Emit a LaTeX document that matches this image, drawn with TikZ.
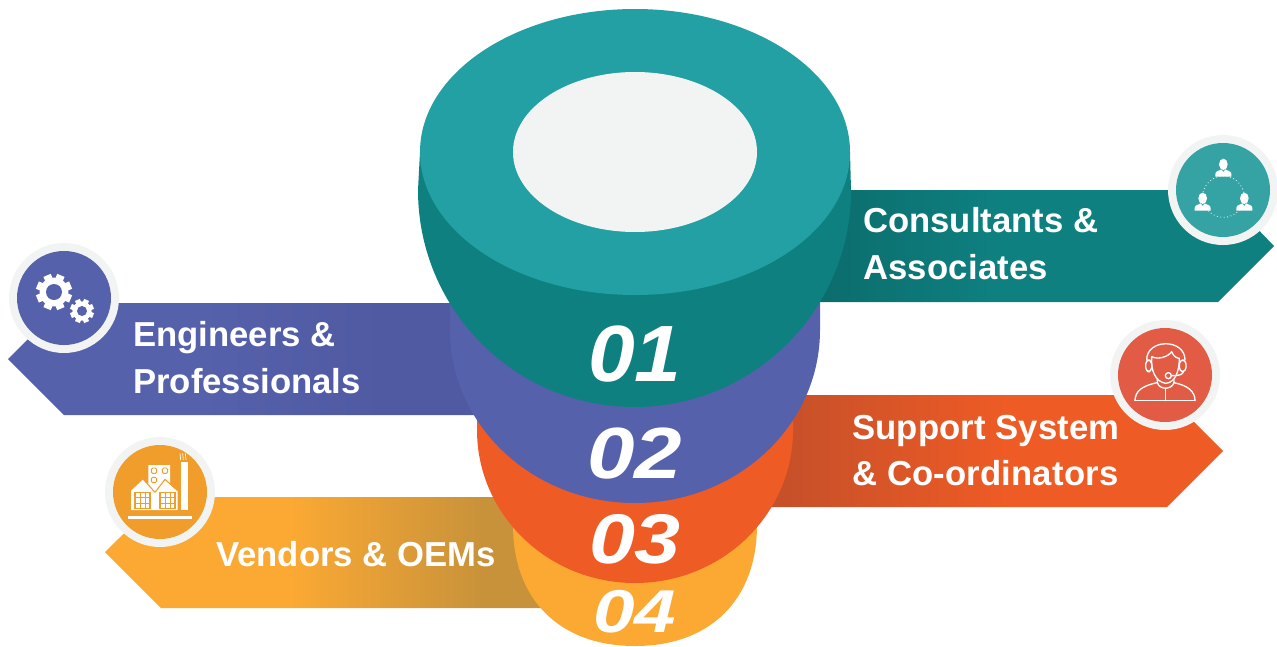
\documentclass[tikz,border=0pt]{standalone}
\usepackage{fontspec}
\setmainfont{Liberation Sans}
\newfontfamily\numfont{Liberation Sans}
\definecolor{tealtop}{HTML}{22A0A3}
\definecolor{tealbody}{HTML}{0F8080}
\definecolor{tealdark}{HTML}{0B6A6A}
\definecolor{tealicon}{HTML}{35A3A3}
\definecolor{purplemain}{HTML}{5661AB}
\definecolor{purpledark}{HTML}{4F5AA3}
\definecolor{orangemain}{HTML}{EF5B25}
\definecolor{orangedark}{HTML}{C24F2A}
\definecolor{orangeicon}{HTML}{E25C45}
\definecolor{yellowmain}{HTML}{FBA933}
\definecolor{yellowdark}{HTML}{C8923A}
\definecolor{yellowicon}{HTML}{F19D2B}
\definecolor{holecol}{HTML}{F2F4F3}
\pgfdeclarehorizontalshading{ribbonteal}{100bp}{color(0bp)=(tealdark); color(25bp)=(tealdark); color(46bp)=(tealbody); color(100bp)=(tealbody)}
\pgfdeclarehorizontalshading{ribbonorange}{100bp}{color(0bp)=(orangedark); color(25bp)=(orangedark); color(52bp)=(orangemain); color(100bp)=(orangemain)}
\pgfdeclarehorizontalshading{ribbonyellow}{100bp}{color(0bp)=(yellowmain); color(46bp)=(yellowmain); color(68bp)=(yellowdark); color(100bp)=(yellowdark)}
\pgfdeclarehorizontalshading{ribbonpurple}{100bp}{color(0bp)=(purplemain); color(45bp)=(purplemain); color(65bp)=(purpledark); color(100bp)=(purpledark)}
\tikzset{
  labeltext/.style={text=white,font=\fontsize{26}{26}\selectfont\bfseries,anchor=base west,inner sep=0pt},
  numtext/.style={text=white,font=\numfont\bfseries\itshape\fontsize{#1}{#1}\selectfont,anchor=base,inner sep=0pt},
  ringdisc/.style={fill=holecol,draw=none},
  iconline/.style={draw=white,line width=1pt,line cap=round,line join=round,fill=none}
}
\newcommand{\gearshape}[4]{% x,y,outer radius,hole radius
  \fill[white] (#1,#2) circle[radius=#3*0.8];
  \foreach \a in {0,45,...,315}{
    \fill[white,rotate around={\a+22.5:(#1,#2)}] ({#1-#3*0.22},#2) rectangle ({#1+#3*0.22},{#2-#3});
  }
  \fill[purplemain] (#1,#2) circle[radius=#4];
}
\newcommand{\personicon}[2]{%
  \begin{scope}[shift={(#1,#2)}]
    \fill[white] (0,-5) ellipse [x radius=13,y radius=17];
    \fill[white] (-24,32) -- (-24,24) .. controls (-24,14) and (-10,14) .. (-6,10) -- (0,18) -- (6,10) .. controls (10,14) and (24,14) .. (24,24) -- (24,32) -- cycle;
  \end{scope}%
}
\begin{document}
\begin{tikzpicture}[x=0.75pt,y=-0.75pt]
\useasboundingbox (0,0) rectangle (1277,646);
% yellow tier
\path[shading=ribbonyellow] (545,608) -- (161,608) -- (105,552) -- (161,497) -- (545,497) -- cycle;
\fill[yellowmain] (513,500) -- (513,525) .. controls (513,600) and (560,646) .. (635,646) .. controls (710,646) and (757,600) .. (757,525) -- (757,500) -- cycle;
% orange tier
\path[shading=ribbonorange] (760,395) -- (1167,395) -- (1223,451) -- (1167,507) -- (760,507) -- cycle;
\fill[orangemain] (477,415) -- (793,415) -- (793,430) arc[start angle=0,end angle=180,x radius=158,y radius=153] -- cycle;
% purple tier
\path[shading=ribbonpurple] (64,303) -- (480,303) -- (480,415) -- (64,415) -- (8,359) -- cycle;
\fill[purplemain] (450,290) -- (820,290) -- (820,330) arc[start angle=0,end angle=180,x radius=185,y radius=173] -- cycle;
% teal tier
\path[shading=ribbonteal] (800,190) -- (1220,190) -- (1274,246) -- (1218,302) -- (800,302) -- cycle;
\fill[tealbody] (420,152) -- (850,152) -- (851,190) arc[start angle=0,end angle=180,x radius=216.5,y radius=217] -- cycle;
\fill[tealtop] (635,152) ellipse[x radius=215,y radius=143];
\fill[holecol] (635,152) ellipse[x radius=122,y radius=80];
% icon discs
\fill[ringdisc] (1223,190) circle[radius=55];
\fill[tealicon] (1223,190) circle[radius=47];
\fill[ringdisc] (64,298) circle[radius=55];
\fill[purplemain] (64,298) circle[radius=47];
\fill[ringdisc] (160,492) circle[radius=55];
\fill[yellowicon] (160,492) circle[radius=47];
\fill[ringdisc] (1165,375) circle[radius=55];
\fill[orangeicon] (1165,375) circle[radius=47];
% network icon
\begin{scope}[shift={(1150,120)},scale=1/3]
\draw[white,line width=0.6pt,dotted] (220,230) circle[radius=62];
\personicon{220}{138}
\personicon{158}{240}
\personicon{283}{240}
\end{scope}
% gears
\gearshape{54}{292}{18}{8}
\gearshape{82}{311}{12}{5}
% factory icon
\begin{scope}[shift={(95,430)},scale=1/3]
\fill[white] (98,258) rectangle (290,267);
\fill[white] (108,240) -- (108,182) -- (145,148) -- (160,162) -- (160,105) -- (225,105) -- (225,162) -- (248,182) -- (248,240) -- cycle;
\fill[white] (257,240) -- (257,95) -- (280,95) -- (280,240) -- cycle;
\draw[yellowicon,line width=0.8pt] (180,187) -- (145,148);
\draw[yellowicon,line width=0.8pt] (180,187) -- (210,148) -- (248,182);
\foreach \wx in {120,195}{
  \draw[yellowicon,line width=0.8pt] (\wx,187) rectangle (\wx+45,235);
  \draw[yellowicon,line width=0.6pt] (\wx+15,187) -- (\wx+15,235) (\wx+30,187) -- (\wx+30,235) (\wx,203) -- (\wx+45,203) (\wx,219) -- (\wx+45,219);
}
\foreach \wx/\wy in {177/122,210/122,177/150}{
  \draw[yellowicon,line width=0.7pt,rounded corners=1pt] (\wx-8,\wy-8) rectangle (\wx+8,\wy+8);
}
\draw[white,line width=0.5pt] (257,90) -- (255,70) (265,90) -- (263,70) (273,90) -- (271,70);
\end{scope}
% headset icon
\begin{scope}[shift={(1100,315)},scale=1/3]
\draw[iconline] (105,257) -- (285,257);
\draw[iconline] (105,257) .. controls (105,230) and (125,212) .. (172,203);
\draw[iconline] (285,257) .. controls (285,230) and (265,212) .. (222,203);
\draw[iconline] (172,190) -- (172,203) .. controls (178,225) and (215,225) .. (222,203) -- (222,192);
\draw[iconline] (197,222) -- (197,257);
\draw[iconline] (155,125) .. controls (175,135) and (205,125) .. (215,110) .. controls (220,125) and (232,130) .. (238,130);
\draw[iconline] (155,125) .. controls (152,165) and (165,200) .. (197,205) .. controls (225,203) and (238,170) .. (238,130);
\draw[iconline] (140,135) .. controls (140,70) and (255,70) .. (255,135);
\draw[iconline,rounded corners=3pt] (137,135) rectangle (155,170);
\draw[iconline,rounded corners=3pt] (238,135) rectangle (258,170);
\draw[iconline] (250,170) .. controls (248,180) and (235,182) .. (215,182);
\draw[iconline] (205,182) circle[radius=9];
\end{scope}
% labels
\node[labeltext] (t1a) at (863,232) {Consultants \&};
\node[labeltext] (t1b) at (863,279) {\addfontfeature{LetterSpace=0.6}Associates};
\node[labeltext] (t2a) at (133,346) {Engineers \&};
\node[labeltext] (t2b) at (133,393) {Professionals};
\node[labeltext] (t3a) at (852,439) {\addfontfeature{LetterSpace=0.4}Support System};
\node[labeltext] (t3b) at (852,485) {\addfontfeature{LetterSpace=0.5}\& Co-ordinators};
\node[labeltext] (t4) at (216,566) {Vendors \& OEMs};
% numbers
\node[numtext=63] (n1) at (635,381) {\scalebox{1}[0.95]{01}};
\node[numtext=64] (n2) at (635,478) {\scalebox{1}[0.85]{02}};
\node[numtext=62] (n3) at (635,563) {\scalebox{1}[0.85]{03}};
\node[numtext=56] (n4) at (635,632) {\scalebox{1}[0.81]{04}};
\end{tikzpicture}
\end{document}
